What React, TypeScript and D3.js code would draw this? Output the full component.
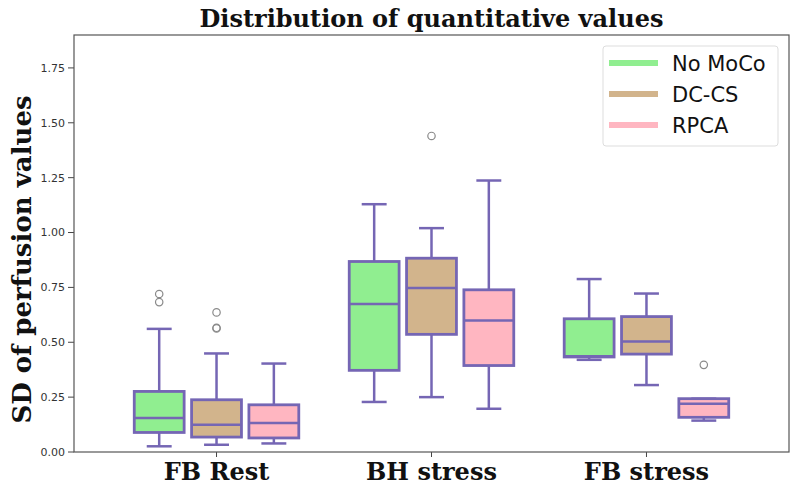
import React, { useEffect } from "react";
import * as d3 from "d3";

// categories and hue groups
const categories = ["FB Rest", "BH stress", "FB stress"];
const methods = ["No MoCo", "DC-CS", "RPCA"];
const colors = ["#90ee90", "#d2b48c", "#ffb6c1"];

// box stats per category: [lowWhisker, q1, median, q3, highWhisker]
const noMoCo = [
  [0.026, 0.089, 0.155, 0.276, 0.561],
  [0.228, 0.372, 0.674, 0.868, 1.129],
  [0.42, 0.433, 0.436, 0.607, 0.788],
];
const dcCs = [
  [0.033, 0.068, 0.124, 0.238, 0.449],
  [0.25, 0.536, 0.747, 0.883, 1.02],
  [0.305, 0.446, 0.504, 0.617, 0.722],
];
const rpca = [
  [0.039, 0.064, 0.132, 0.215, 0.403],
  [0.197, 0.394, 0.599, 0.739, 1.237],
  [0.143, 0.158, 0.22, 0.243, 0.243],
];

// outliers per category
const noMoCoOut = [[0.72, 0.683], [], []];
const dcCsOut = [[0.636, 0.563, 0.566], [1.44], []];
const rpcaOut = [[], [], [0.397]];

const yTicks = [0, 0.25, 0.5, 0.75, 1.0, 1.25, 1.5, 1.75];

const series = [noMoCo, dcCs, rpca];
const outliers = [noMoCoOut, dcCsOut, rpcaOut];

const W = 800;
const H = 489;
const margin = { top: 35, right: 11, bottom: 37, left: 74 };
const lineColor = "#7566b4";

export default function App() {
  useEffect(() => {
    document.body.style.margin = "0";
  }, []);

  const x = d3
    .scaleBand<string>()
    .domain(categories)
    .range([margin.left, W - margin.right])
    .paddingInner(0)
    .paddingOuter(0.163);

  const inner = x.bandwidth() * 0.8;
  const xHue = d3
    .scaleBand<string>()
    .domain(methods)
    .range([-inner / 2, inner / 2]);
  const boxW = xHue.bandwidth() * 0.87;

  const y = d3
    .scaleLinear()
    .domain([0, 1.9])
    .range([H - margin.bottom, margin.top]);

  const serif = "'DejaVu Serif', serif";
  const sans = "'DejaVu Sans', sans-serif";

  return (
    <svg width={W} height={H} style={{ display: "block", background: "#fff" }}>
      <text
        x={(margin.left + W - margin.right) / 2}
        y={27}
        textAnchor="middle"
        fontFamily={serif}
        fontWeight="bold"
        fontSize={24}
        fill="#111"
      >
        Distribution of quantitative values
      </text>

      {/* y axis ticks */}
      {yTicks.map((t) => (
        <g key={t}>
          <line x1={margin.left - 6} x2={margin.left} y1={y(t)} y2={y(t)} stroke="#444" />
          <text
            x={margin.left - 9}
            y={y(t)}
            dy="0.35em"
            textAnchor="end"
            fontFamily={sans}
            fontSize={11}
            fill="#333"
          >
            {d3.format(".2f")(t)}
          </text>
        </g>
      ))}

      <text
        transform={`translate(31,${(margin.top + H - margin.bottom) / 2 + 16}) rotate(-90)`}
        textAnchor="middle"
        fontFamily={serif}
        fontWeight="bold"
        fontSize={26}
        fill="#111"
      >
        SD of perfusion values
      </text>

      {/* x axis ticks */}
      {categories.map((c) => {
        const cx = x(c)! + x.bandwidth() / 2;
        return (
          <g key={c}>
            <line x1={cx} x2={cx} y1={y(0)} y2={y(0) + 5} stroke="#444" />
            <text
              x={cx}
              y={480}
              textAnchor="middle"
              fontFamily={serif}
              fontWeight="bold"
              fontSize={24}
              fill="#111"
            >
              {c}
            </text>
          </g>
        );
      })}

      {/* boxes */}
      {categories.map((c, ci) =>
        methods.map((m, mi) => {
          const [lo, q1, med, q3, hi] = series[mi][ci];
          const cx = x(c)! + x.bandwidth() / 2 + xHue(m)! + xHue.bandwidth() / 2;
          return (
            <g key={c + m}>
              <line x1={cx} x2={cx} y1={y(q3)} y2={y(hi)} stroke={lineColor} strokeWidth={2.5} />
              <line x1={cx} x2={cx} y1={y(q1)} y2={y(lo)} stroke={lineColor} strokeWidth={2.5} />
              <line x1={cx - boxW / 4} x2={cx + boxW / 4} y1={y(hi)} y2={y(hi)} stroke={lineColor} strokeWidth={2.5} />
              <line x1={cx - boxW / 4} x2={cx + boxW / 4} y1={y(lo)} y2={y(lo)} stroke={lineColor} strokeWidth={2.5} />
              <rect
                x={cx - boxW / 2}
                y={y(q3)}
                width={boxW}
                height={y(q1) - y(q3)}
                fill={colors[mi]}
                stroke={lineColor}
                strokeWidth={2.8}
              />
              <line x1={cx - boxW / 2} x2={cx + boxW / 2} y1={y(med)} y2={y(med)} stroke={lineColor} strokeWidth={2.5} />
              {outliers[mi][ci].map((o, oi) => (
                <circle key={oi} cx={cx} cy={y(o)} r={3.7} fill="none" stroke="#8a8a8a" strokeWidth={1.2} />
              ))}
            </g>
          );
        })
      )}

      {/* frame */}
      <rect
        x={margin.left}
        y={margin.top}
        width={W - margin.right - margin.left}
        height={H - margin.bottom - margin.top}
        fill="none"
        stroke="#555"
        strokeWidth={1.2}
      />

      {/* legend */}
      <g>
        <rect x={603} y={46} width={175} height={100} rx={3} fill="#fff" fillOpacity={0.8} stroke="#ddd" />
        {methods.map((m, i) => (
          <g key={m}>
            <line x1={609} x2={658} y1={63 + i * 31} y2={63 + i * 31} stroke={colors[i]} strokeWidth={6} />
            <text x={672} y={63 + i * 31} dy="0.36em" fontFamily={sans} fontSize={21} fill="#111">
              {m}
            </text>
          </g>
        ))}
      </g>
    </svg>
  );
}
